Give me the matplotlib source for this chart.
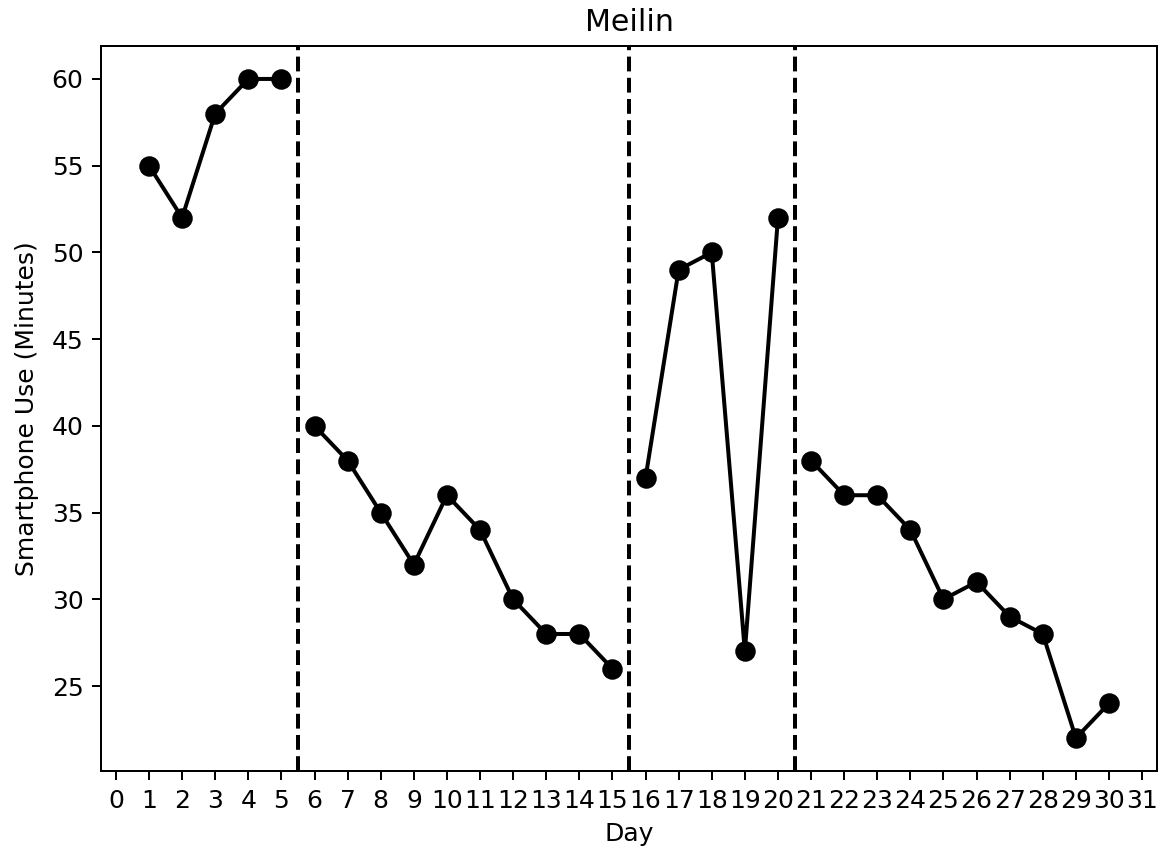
import matplotlib
matplotlib.use("Agg")
import matplotlib.pyplot as plt

days_a = [1, 2, 3, 4, 5]
vals_a = [55, 52, 58, 60, 60]
days_b = [6, 7, 8, 9, 10, 11, 12, 13, 14, 15]
vals_b = [40, 38, 35, 32, 36, 34, 30, 28, 28, 26]
days_c = [16, 17, 18, 19, 20]
vals_c = [37, 49, 50, 27, 52]
days_d = [21, 22, 23, 24, 25, 26, 27, 28, 29, 30]
vals_d = [38, 36, 36, 34, 30, 31, 29, 28, 22, 24]
phase_breaks = [5.5, 15.5, 20.5]
xticks = list(range(0, 32))

fig, ax = plt.subplots(figsize=(1162/180, 854/180), dpi=180)
for d, v in [(days_a, vals_a), (days_b, vals_b), (days_c, vals_c), (days_d, vals_d)]:
    ax.plot(d, v, color="black", marker="o", markersize=7.2, linewidth=1.6)
for b in phase_breaks:
    ax.axvline(b, color="black", linestyle="--", linewidth=1.6)
ax.set_xticks(xticks)
ax.set_xlabel("Day")
ax.set_ylabel("Smartphone Use (Minutes)", labelpad=5)
ax.set_title("Meilin")
fig.subplots_adjust(left=101/1162, right=1157/1162, top=1-46/854, bottom=1-771/854)
fig.savefig("out.png", dpi=180)
